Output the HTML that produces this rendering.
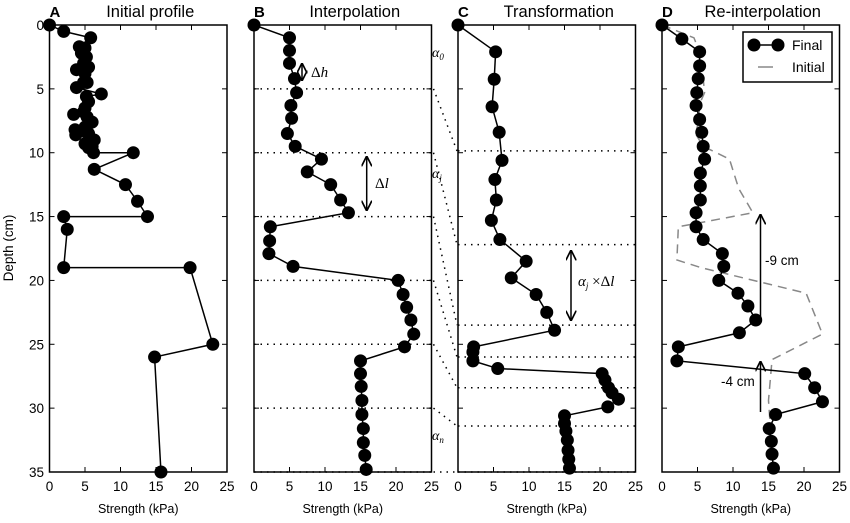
<!DOCTYPE html>
<html><head><meta charset="utf-8">
<style>
html,body{margin:0;padding:0;background:#fff;}
svg{display:block;font-family:"Liberation Sans",sans-serif;}
</style></head>
<body>
<svg id="fig" width="850" height="523" viewBox="0 0 850 523" xmlns="http://www.w3.org/2000/svg"></svg>
<script>
// ---- data ----
const xTicks=[0,5,10,15,20,25];
const yTicks=[0,5,10,15,20,25,30,35];
const aStrength=[0,2,5.8,4.2,5,4.5,5.2,4.8,5.5,3.8,5,4.8,5.3,3.8,7.3,5.2,5.5,5,4.8,3.4,5.3,6,5,3.6,4.8,3.7,5.5,6.3,5,5.5,6,6.2,11.8,6.3,10.7,12.4,13.8,2,2.5,2,19.8,23,14.8,15.7];
const aDepth=[0,0.5,1,1.7,1.8,2.2,2.5,3,3.3,3.5,3.8,4.5,4.5,4.9,5.4,5.6,6,6.5,6.8,7,7.2,7.6,8,8.2,8.3,8.6,8.5,9,9.3,9.6,9.5,10,10,11.3,12.5,13.8,15,15,16,19,19,25,26,35];
const bStrength=[0,5,5,5,5.7,6,5.2,5.3,4.7,5.8,9.5,7.5,10.8,12.2,13.3,2.3,2.2,2.1,5.5,20.3,21,21.5,22.1,22.5,21.2,15,15,15.1,15.2,15.2,15.4,15.4,15.6,15.8];
const bDepth=[0,1,2,3,4.2,5.3,6.3,7.3,8.5,9.5,10.5,11.5,12.5,13.7,14.7,15.8,16.9,17.9,18.9,20,21.1,22.1,23.1,24.2,25.2,26.3,27.3,28.3,29.4,30.5,31.6,32.7,33.7,34.8];
const cStrength=[0,5.3,5.1,4.8,5.8,6.2,5.2,5.4,4.7,5.9,9.6,7.5,11,12.5,13.6,2.2,2.1,2.1,5.6,20.3,20.7,21.2,21.7,22.6,21.1,15,15,15.2,15.4,15.5,15.6,15.7];
const cDepth=[0,2.1,4.25,6.4,8.4,10.6,12.1,13.7,15.3,16.8,18.5,19.8,21.1,22.5,23.9,25.2,25.6,26.3,26.9,27.3,27.8,28.4,28.8,29.3,29.9,30.6,31.2,31.8,32.5,33.3,34,34.7];
const dStrength=[0,2.8,5.3,5.3,5.1,4.9,4.8,5.3,5.6,5.8,6,5.4,5.4,5.4,4.8,4.8,5.8,8.5,8.7,8,10.7,12.1,13.2,10.9,2.3,2.1,20.1,21.5,22.6,16,15.1,15.4,15.5,15.7];
const dDepth=[0,1.1,2.1,3.2,4.2,5.3,6.3,7.4,8.4,9.5,10.5,11.6,12.6,13.7,14.7,15.8,16.8,17.9,18.9,20,21,22,23.1,24.1,25.2,26.3,27.3,28.4,29.5,30.5,31.6,32.6,33.6,34.7];
const initStrength=[0,4.5,5.2,5.3,5.8,6,5.2,5.3,4.7,5.8,9.5,10.8,12.8,2.3,2.1,5.5,20.3,22.6,15.5,15,15.7];
const initDepth=[0,1,2,3,4.2,5.3,6.3,7.3,8.5,9.5,10.5,12.8,14.7,15.8,18.4,19,21,24.2,26.2,29.4,35];
const bGrid=[5,10,15,20,25,30,35];
const cGrid=[9.86,17.2,23.5,26,28.4,31.4,35];
const titles=["Initial profile","Interpolation","Transformation","Re-interpolation"];
const letters=["A","B","C","D"];

// ---- geometry ----
const NS="http://www.w3.org/2000/svg";
const svg=document.getElementById('fig');
const left=[49.5,254,458,662], W=177.5, top0=25, bot=472;
function X(p,v){return left[p]+v/25*W;}
function Y(d){return top0+d/35*(bot-top0);}
function el(tag,attrs,parent){const e=document.createElementNS(NS,tag);for(const k in attrs)e.setAttribute(k,attrs[k]);(parent||svg).appendChild(e);return e;}
function txt(s,x,y,attrs,parent){const t=el('text',Object.assign({x:x,y:y},attrs),parent);t.textContent=s;return t;}

for(let p=0;p<4;p++){
  const g=el('g',{});
  
  
  if(p===1){bGrid.forEach(d=>{const l=el('line',{x1:X(1,0),x2:X(1,25),y1:Y(d),y2:Y(d),stroke:'#000','stroke-width':1.5,'stroke-dasharray':'1.5 5'},g);});}
  if(p===2){cGrid.forEach(d=>{const l=el('line',{x1:X(2,0),x2:X(2,25),y1:Y(d),y2:Y(d),stroke:'#000','stroke-width':1.5,'stroke-dasharray':'1.5 5'},g);});}
  const fr=el('rect',{x:left[p],y:top0,width:W,height:bot-top0,fill:'none',stroke:'#000','stroke-width':1.5},g);
  
  xTicks.forEach(v=>{
    el('line',{x1:X(p,v),x2:X(p,v),y1:bot,y2:bot-5,stroke:'#000','stroke-width':1},g);
    el('line',{x1:X(p,v),x2:X(p,v),y1:top0,y2:top0+5,stroke:'#000','stroke-width':1},g);
    const t=txt(String(v),X(p,v),491,{'font-size':13.5,'text-anchor':'middle'},g);
    
  });
  yTicks.forEach(v=>{
    el('line',{x1:left[p],x2:left[p]+5,y1:Y(v),y2:Y(v),stroke:'#000','stroke-width':1},g);
    el('line',{x1:left[p]+W,x2:left[p]+W-5,y1:Y(v),y2:Y(v),stroke:'#000','stroke-width':1},g);
    if(p===0){const t=txt(String(v),44,Y(v)+5,{'font-size':13.5,'text-anchor':'end'},g);}
  });
  const xt=txt('Strength (kPa)',left[p]+W/2,513,{'font-size':12.5,'text-anchor':'middle'},g);
  
  const lt=txt(letters[p],left[p],17,{'font-size':15,'font-weight':'bold'},g);
  
  const tt=txt(titles[p],left[p]+W/2+12,17,{'font-size':16.5,'text-anchor':'middle'},g);
  
}
const yt=txt('Depth (cm)',0,0,{'font-size':13.5,'text-anchor':'middle',transform:'translate(13,248) rotate(-90)'});


bGrid.forEach((d,i)=>{
  const l=el('line',{x1:X(1,25)+2,y1:Y(d),x2:X(2,0)-1,y2:Y(cGrid[i]),stroke:'#000','stroke-width':1.5,'stroke-dasharray':'1.5 5'});
  
});
[['α','0',57],['α','j',178],['α','n',440]].forEach(a=>{
  const t=el('text',{x:432,y:a[2],'font-size':14,'font-family':'"Liberation Serif",serif','font-style':'italic'});
  t.textContent=a[0];const s=el('tspan',{'font-size':9,dy:3},t);s.textContent=a[1];
  
});

{
  const pts=initStrength.map((s,i)=>X(3,s)+','+Y(initDepth[i])).join(' ');
  const pl=el('polyline',{points:pts,fill:'none',stroke:'#888','stroke-width':1.5,'stroke-dasharray':'9 6'});
  
}

function series(p,xs,ys,name){
  const pts=xs.map((s,i)=>X(p,s)+','+Y(ys[i])).join(' ');
  const pl=el('polyline',{points:pts,fill:'none',stroke:'#000','stroke-width':1.5});
  
  xs.forEach((s,i)=>{
    const c=el('circle',{cx:X(p,s),cy:Y(ys[i]),r:6.5,fill:'#000'});
    
    
  });
}
series(0,aStrength,aDepth,'initial');
series(1,bStrength,bDepth,'interpolated');
series(2,cStrength,cDepth,'transformed');
series(3,dStrength,dDepth,'final');

el('defs',{}).innerHTML='<marker id="ah" viewBox="0 0 10 10" refX="9" refY="5" markerWidth="7" markerHeight="7" orient="auto-start-reverse"><path d="M0,0 L10,5 L0,10" fill="none" stroke="#000" stroke-width="1.6"/></marker>';
function arrow(x,y1,y2,both,name){
  const a={x1:x,x2:x,y1:y1,y2:y2,stroke:'#000','stroke-width':1.5,'marker-end':'url(#ah)'};
  if(both)a['marker-start']='url(#ah)';
  const l=el('line',a);
}
arrow(302,64,80,true,'delta-h-arrow');
arrow(366.7,157,210,true,'delta-l-arrow');
arrow(571,251,320,true,'alpha-delta-l-arrow');
arrow(760.5,322,215,false,'shift-9cm-arrow');
arrow(760.5,412,362,false,'shift-4cm-arrow');
function mathLabel(x,y,html,name){const t=el('text',{x:x,y:y,'font-size':15,'font-family':'"Liberation Serif",serif'});t.innerHTML=html;}
mathLabel(311,77,'Δ<tspan font-style="italic">h</tspan>','delta-h-label');
mathLabel(375,188,'Δ<tspan font-style="italic">l</tspan>','delta-l-label');
mathLabel(578,286,'<tspan font-style="italic">α</tspan><tspan font-size="9" font-style="italic" dy="3">j</tspan><tspan dy="-3"> ×Δ</tspan><tspan font-style="italic">l</tspan>','alpha-delta-l-label');
{const t=txt('-9 cm',765,265,{'font-size':13.5});}
{const t=txt('-4 cm',721,386,{'font-size':13.5});}

{
  const g=el('g',{});
  el('rect',{x:743,y:32,width:89,height:50,fill:'#fff',stroke:'#000','stroke-width':1.5},g);
  el('line',{x1:754,x2:778,y1:45,y2:45,stroke:'#000','stroke-width':1.5},g);
  el('circle',{cx:754,cy:45,r:6.5,fill:'#000'},g);el('circle',{cx:778,cy:45,r:6.5,fill:'#000'},g);
  const t1=txt('Final',792,50,{'font-size':14},g);
  el('line',{x1:758,x2:773,y1:67,y2:67,stroke:'#888','stroke-width':1.5},g);
  const t2=txt('Initial',792,72,{'font-size':14},g);
}
</script>
</body></html>
